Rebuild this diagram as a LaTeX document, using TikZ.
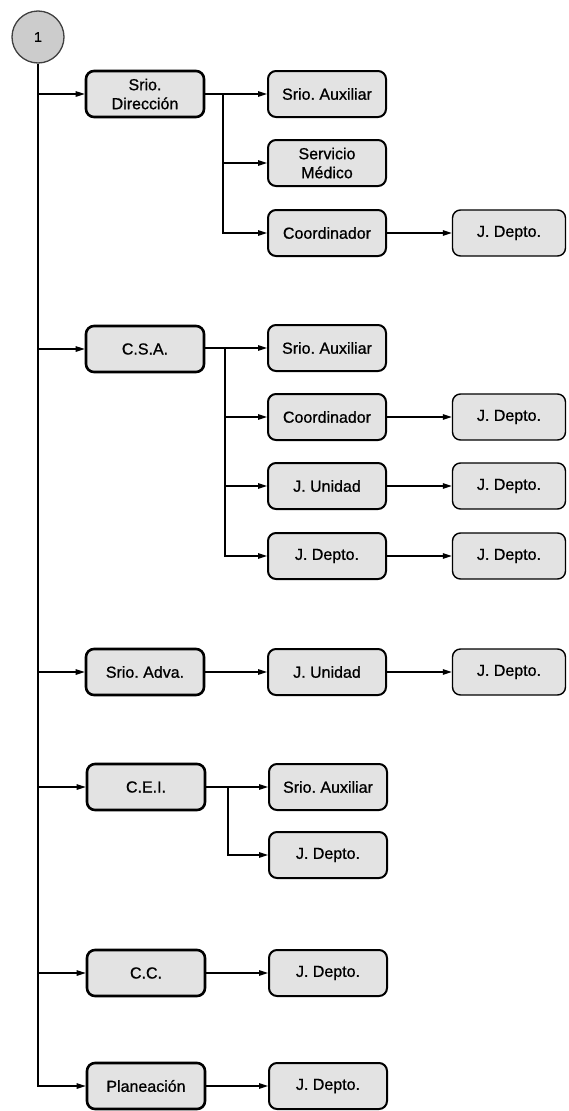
\documentclass[tikz,border=0pt]{standalone}
\usepackage{fontspec}
\setmainfont{Liberation Sans}
\newfontfamily\boxfont{Liberation Sans}[FakeBold=0.8]
\usetikzlibrary{arrows.meta}
\frenchspacing

\definecolor{boxgray}{gray}{0.89}
\definecolor{circgray}{gray}{0.80}

\tikzset{
  jefe/.style={draw, rounded corners=8pt, fill=boxgray, line width=2.6pt,
    minimum width=118pt, minimum height=46pt, inner sep=2pt, align=center,
    font=\boxfont\fontsize{16}{19}\selectfont},
  sub/.style={jefe, line width=2pt},
  depto/.style={jefe, line width=1.4pt, minimum width=113pt},
  arr/.style={-{Triangle[length=9pt,width=5.5pt]}, line width=1.2pt}
}

\begin{document}
\begin{tikzpicture}[x=1pt, y=-1pt]
\useasboundingbox (0,0) rectangle (568,1111);

% Connector circle
\node[circle, draw=black!75, line width=1.3pt, fill=circgray, minimum size=52pt,
  inner sep=0pt, font=\boxfont\fontsize{14}{16}\selectfont] (uno) at (38,37) {1};

% First level
\node[jefe] (sdir) at (145,94) {Srio.\\Dirección};
\node[jefe] (csa) at (145,349) {C.S.A.};
\node[jefe] (sadva) at (145,672) {Srio. Adva.};
\node[jefe] (cei) at (146,787) {C.E.I.};
\node[jefe] (cc) at (146,973) {C.C.};
\node[jefe] (plan) at (146,1086) {Planeación};

% Second level
\node[sub] (saux1) at (327,94) {Srio. Auxiliar};
\node[sub] (smed) at (327,163) {Servicio\\Médico};
\node[sub] (coord1) at (327,233) {Coordinador};
\node[sub] (saux2) at (327,348) {Srio. Auxiliar};
\node[sub] (coord2) at (327,417) {Coordinador};
\node[sub] (unid2) at (327,486) {J. Unidad};
\node[sub] (dep2) at (327,556) {J. Depto.};
\node[sub] (unid3) at (327,672) {J. Unidad};
\node[sub] (saux4) at (328,787) {Srio. Auxiliar};
\node[sub] (dep4) at (328,855) {J. Depto.};
\node[sub] (dep5) at (328,973) {J. Depto.};
\node[sub] (dep6) at (328,1086) {J. Depto.};

% Third level
\node[depto] (d1) at (509,233) {J. Depto.};
\node[depto] (d2a) at (509,417) {J. Depto.};
\node[depto] (d2b) at (509,486) {J. Depto.};
\node[depto] (d2c) at (509,556) {J. Depto.};
\node[depto] (d3) at (509,672) {J. Depto.};

% Trunk
\draw[arr] (uno.south) |- (plan.west);
\draw[arr] (uno.south |- sdir.west) -- (sdir.west);
\draw[arr] (uno.south |- csa.west) -- (csa.west);
\draw[arr] (uno.south |- sadva.west) -- (sadva.west);
\draw[arr] (uno.south |- cei.west) -- (cei.west);
\draw[arr] (uno.south |- cc.west) -- (cc.west);

% Srio. Direccion branch
\coordinate (k1) at (223,94);
\draw[arr] (sdir.east) -- (saux1.west);
\draw[arr] (k1) |- (smed.west);
\draw[arr] (k1) |- (coord1.west);
\draw[arr] (coord1.east) -- (d1.west);

% C.S.A. branch
\coordinate (k2) at (225,348);
\draw[arr] (csa.east |- saux2.west) -- (saux2.west);
\draw[arr] (k2) |- (coord2.west);
\draw[arr] (k2) |- (unid2.west);
\draw[arr] (k2) |- (dep2.west);
\draw[arr] (coord2.east) -- (d2a.west);
\draw[arr] (unid2.east) -- (d2b.west);
\draw[arr] (dep2.east) -- (d2c.west);

% Srio. Adva. branch
\draw[arr] (sadva.east) -- (unid3.west);
\draw[arr] (unid3.east) -- (d3.west);

% C.E.I. branch
\coordinate (k4) at (228,787);
\draw[arr] (cei.east) -- (saux4.west);
\draw[arr] (k4) |- (dep4.west);

% C.C. and Planeacion
\draw[arr] (cc.east) -- (dep5.west);
\draw[arr] (plan.east) -- (dep6.west);
\end{tikzpicture}
\end{document}
